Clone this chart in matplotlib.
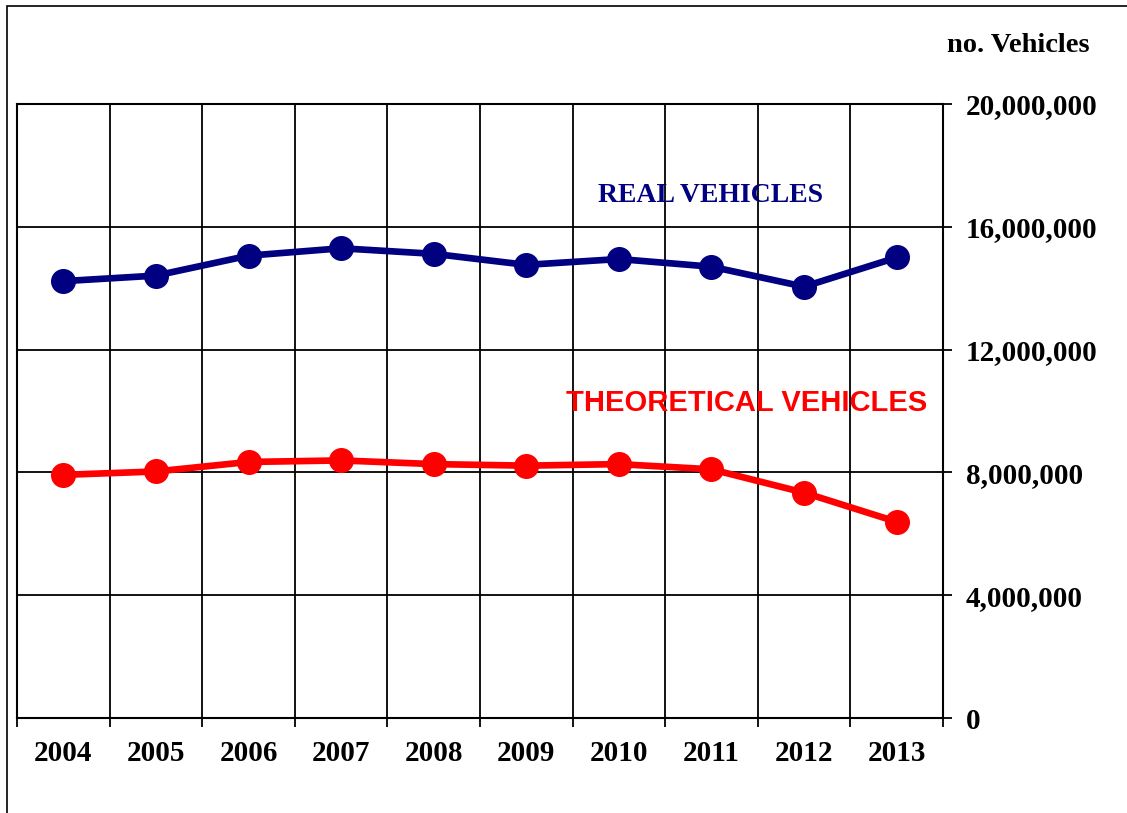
import matplotlib
matplotlib.use("Agg")
import matplotlib.pyplot as plt
from matplotlib.patches import Rectangle
from matplotlib.ticker import FuncFormatter
import numpy as np

years = ["2004", "2005", "2006", "2007", "2008", "2009", "2010", "2011", "2012", "2013"]
real_vehicles = [14.23e6, 14.41e6, 15.06e6, 15.30e6, 15.12e6, 14.76e6, 14.95e6, 14.70e6, 14.05e6, 15.00e6]
theoretical_vehicles = [7.92e6, 8.03e6, 8.34e6, 8.39e6, 8.27e6, 8.22e6, 8.27e6, 8.10e6, 7.34e6, 6.39e6]
y_ticks = [0, 4e6, 8e6, 12e6, 16e6, 20e6]

W, H = 1127, 813
fig = plt.figure(figsize=(W / 100, H / 100), dpi=100)
fig.patch.set_facecolor("white")

# outer chart border
fig.patches.append(Rectangle((7 / W, -0.1), 1.2, (H - 6) / H + 0.1, transform=fig.transFigure,
                             fill=False, edgecolor="black", linewidth=1.2, zorder=0))

left, right, top, bottom = 17, 943, 104, 718
ax = fig.add_axes([left / W, (H - bottom) / H, (right - left) / W, (bottom - top) / H])

x = np.arange(len(years))
ax.plot(x, real_vehicles, color="#000080", lw=4.8, marker="o", ms=17, zorder=3, clip_on=False)
ax.plot(x, theoretical_vehicles, color="#FF0000", lw=4.8, marker="o", ms=17, zorder=3, clip_on=False)

ax.set_xlim(-0.5, len(years) - 0.5)
ax.set_ylim(0, 20e6)

serif = ["Liberation Serif", "DejaVu Serif"]
ax.set_xticks(x)
ax.set_xticklabels(years, fontfamily=serif, fontweight="bold", fontsize=21)
ax.set_xticks(np.arange(-0.5, len(years)), minor=True)
ax.tick_params(axis="x", which="major", length=0, pad=16)
ax.tick_params(axis="x", which="minor", length=6.5, width=1.3, direction="out")

ax.yaxis.tick_right()
ax.set_yticks(y_ticks)
ax.yaxis.set_major_formatter(FuncFormatter(lambda v, p: f"{int(v):,}"))
ax.tick_params(axis="y", which="major", length=6.5, width=1.3, direction="out", pad=10,
               labelsize=21)
for lab in ax.get_yticklabels():
    lab.set_fontfamily(serif)
    lab.set_fontweight("bold")

ax.grid(True, which="minor", axis="x", color="black", lw=1.3)
ax.grid(True, which="major", axis="y", color="black", lw=1.3)
ax.set_axisbelow(True)
for s in ax.spines.values():
    s.set_linewidth(1.5)

fig.text(1018 / W, 1 - 46 / H, "no. Vehicles", ha="center", va="center",
         fontfamily=serif, fontweight="bold", fontsize=20.5)
fig.text(710 / W, 1 - 195 / H, "REAL VEHICLES", ha="center", va="center",
         fontfamily=serif, fontweight="bold", fontsize=20, color="#000080")
fig.text(747 / W, 1 - 403 / H, "THEORETICAL VEHICLES", ha="center", va="center",
         fontfamily=["Liberation Sans", "DejaVu Sans"], fontweight="bold", fontsize=21,
         color="#FF0000")

fig.savefig("out.png", dpi=100, facecolor="white")
